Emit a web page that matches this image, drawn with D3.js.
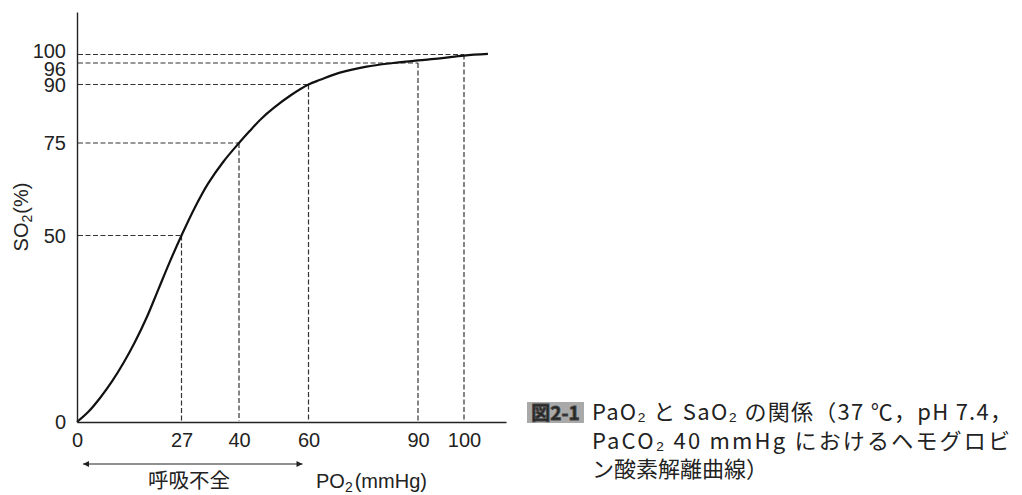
<!DOCTYPE html>
<html>
<head>
<meta charset="utf-8">
<script src="https://cdn.jsdelivr.net/npm/d3@7"></script>
<style>
body{margin:0;background:#fff;}
svg{display:block;}
.axis path{stroke:#222;stroke-width:1.4;}
.guide{stroke:#333;stroke-width:1.2;stroke-dasharray:5,2.5;fill:none;}
.curve{stroke:#111;stroke-width:2.2;fill:none;}
.label{font-family:"Liberation Sans",Arial,sans-serif;font-size:20px;fill:#222;}
.jp{font-family:"Noto Sans CJK JP",sans-serif;fill:#222;}
</style>
</head>
<body>
<svg id="chart"></svg>
<script>
// tick values
var po2Ticks = [0,27,40,60,90,100];
var so2Ticks = [0,50,75,90,96,100];

// curve (PO2 mmHg, SO2 %)
var curvePO2 = [0,3,6,9,12,15,18,21,24,27,30,33,36.5,40,43,46.5,50,55,60,63.2,68.6,75.9,83.2,90,94.8,100,105.7];
var curveSO2 = [0,2.8,6.5,10.8,15.8,21.5,28,35.5,43,50,57.5,64,70,75,78,81.3,84,87.3,90,91.3,93.3,95.0,96.0,97.2,98.2,99.5,100.2];

// dashed reading lines: [PO2, SO2 where horizontal line sits]
var guidePO2 = [27,40,60,90,100];
var guideSO2 = [50,75,90,96,100];

var captionLines = [
  "PaO₂ と SaO₂ の関係（37 ℃，pH 7.4，",
  "PaCO₂ 40 mmHg におけるヘモグロビ",
  "ン酸素解離曲線）"
];

var screen = {width:1022,height:495};

var svg = d3.select("#chart")
    .attr("width",screen.width)
    .attr("height",screen.height);

// the printed figure is hand drawn, so the axes are not evenly spaced
var xScale = d3.scaleLinear()
    .domain(po2Ticks.concat([110]))
    .range([77,181.5,239,308.5,418,464,506]);
var yScale = d3.scaleLinear()
    .domain(so2Ticks.concat([115]))
    .range([422,235.5,143,84.5,63,54.5,12]);

var styleTicks = function(g)
{
    g.attr("font-family",null).attr("font-size",null);
    g.selectAll(".tick text")
        .attr("font-family","'Liberation Sans',Arial,sans-serif")
        .attr("font-size","20px")
        .attr("fill","#222");
}

var drawAxes = function()
{
    var xAxis = d3.axisBottom(xScale)
        .tickValues(po2Ticks)
        .tickSize(0)
        .tickSizeOuter(0)
        .tickPadding(11);
    var yAxis = d3.axisLeft(yScale)
        .tickValues(so2Ticks)
        .tickSize(0)
        .tickSizeOuter(0)
        .tickPadding(11);

    svg.append("g")
        .attr("class","axis")
        .attr("transform","translate(0,"+yScale(0)+")")
        .call(xAxis)
        .call(styleTicks);

    var ya = svg.append("g")
        .attr("class","axis")
        .attr("transform","translate("+xScale(0)+",0)")
        .call(yAxis)
        .call(styleTicks);

    // 100 and 96 are squeezed apart in the print
    ya.selectAll(".tick text")
        .attr("dy",function(d)
        {
            if(d==100){return "0.14em";}
            if(d==96){return "0.62em";}
            return "0.34em";
        });
}

var drawGuides = function()
{
    var guides = guidePO2.map(function(p,i){return {po2:p,so2:guideSO2[i]};});
    var g = svg.append("g");
    g.selectAll("line.h")
        .data(guides)
        .enter()
        .append("line")
        .attr("class","guide")
        .attr("x1",xScale(0)+1)
        .attr("x2",function(d){return xScale(d.po2);})
        .attr("y1",function(d){return yScale(d.so2);})
        .attr("y2",function(d){return yScale(d.so2);});
    g.selectAll("line.v")
        .data(guides)
        .enter()
        .append("line")
        .attr("class","guide")
        .attr("x1",function(d){return xScale(d.po2);})
        .attr("x2",function(d){return xScale(d.po2);})
        .attr("y1",function(d){return yScale(d.so2);})
        .attr("y2",yScale(0)-1);
}

var drawCurve = function()
{
    var pts = curvePO2.map(function(p,i){return [p,curveSO2[i]];});
    var line = d3.line()
        .x(function(d){return xScale(d[0]);})
        .y(function(d){return yScale(d[1]);})
        .curve(d3.curveCatmullRom.alpha(0.5));
    svg.append("path")
        .datum(pts)
        .attr("class","curve")
        .attr("d",line);
}

var drawLabels = function()
{
    var yt = svg.append("text")
        .attr("class","label")
        .attr("text-anchor","middle")
        .attr("transform","translate(28,217) rotate(-90)");
    yt.append("tspan").text("SO");
    yt.append("tspan").text("2").attr("font-size","14px").attr("dy","4");
    yt.append("tspan").text("(%)").attr("dy","-4").attr("dx","1");

    var xt = svg.append("text")
        .attr("class","label")
        .attr("x",316)
        .attr("y",488);
    xt.append("tspan").text("PO");
    xt.append("tspan").text("2").attr("font-size","14px").attr("dy","4");
    xt.append("tspan").text("(mmHg)").attr("dy","-4").attr("dx","2");

    // 呼吸不全 arrow spanning 0..60 mmHg
    var defs = svg.append("defs");
    ["start","end"].forEach(function(k)
    {
        defs.append("marker")
            .attr("id","arr-"+k)
            .attr("viewBox","0 0 10 10")
            .attr("refX",k=="end"?10:0)
            .attr("refY",5)
            .attr("markerWidth",10)
            .attr("markerHeight",6)
            .attr("markerUnits","userSpaceOnUse")
            .attr("orient","auto")
            .append("path")
            .attr("d",k=="end"?"M0,0L10,5L0,10Z":"M10,0L0,5L10,10Z")
            .attr("fill","#222");
    });
    var ax1 = xScale(0)+6, ax2 = xScale(60)-6;
    svg.append("line")
        .attr("x1",ax1).attr("x2",ax2)
        .attr("y1",464).attr("y2",464)
        .attr("stroke","#222")
        .attr("stroke-width",1.2)
        .attr("marker-start","url(#arr-start)")
        .attr("marker-end","url(#arr-end)");
    svg.append("text")
        .attr("class","jp")
        .attr("font-size","20.5px")
        .attr("text-anchor","middle")
        .attr("x",189)
        .attr("y",488)
        .text("呼吸不全");
}

var drawCaption = function()
{
    var cap = svg.append("g");
    cap.append("rect")
        .attr("x",527).attr("y",402)
        .attr("width",57).attr("height",21)
        .attr("fill","#a9a9a9");
    cap.append("text")
        .attr("class","jp")
        .attr("x",555.5).attr("y",419.5)
        .attr("text-anchor","middle")
        .attr("font-size","19px")
        .attr("font-weight","bold")
        .attr("fill","#fff")
        .attr("stroke","#444")
        .attr("stroke-width",0.9)
        .text("図2-1");

    var widths = [420,418,null];
    cap.selectAll("text.cap")
        .data(captionLines)
        .enter()
        .append("text")
        .attr("class","jp cap")
        .attr("font-size","22px")
        .attr("x",592)
        .attr("y",function(d,i){return 420+i*28.5;})
        .attr("textLength",function(d,i){return widths[i];})
        .attr("lengthAdjust","spacing")
        .text(function(d){return d;});
}

drawGuides();
drawCurve();
drawAxes();
drawLabels();
drawCaption();
</script>
</body>
</html>
